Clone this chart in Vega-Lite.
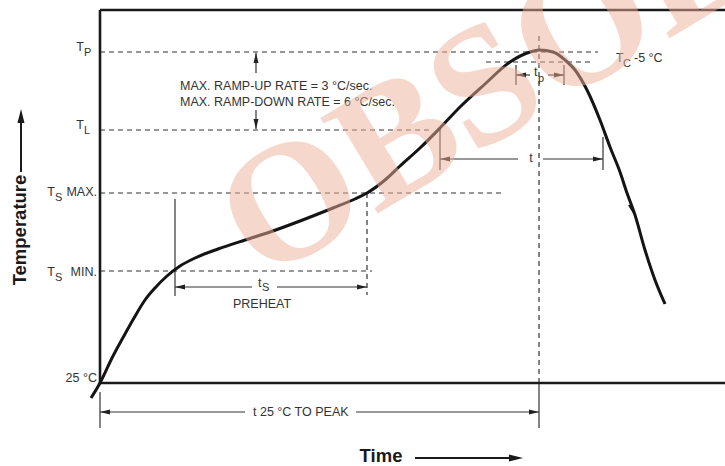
{
  "$schema": "https://vega.github.io/schema/vega-lite/v6.json",
  "description": "Reflow soldering profile (temperature vs time) with OBSOLETE stamp",
  "width": 725,
  "height": 466,
  "autosize": {"type": "none"},
  "padding": 0,
  "background": "white",
  "config": {"view": {"stroke": null}},
  "datasets": {
    "frame": [
      {"x": 100, "x2": 725, "y": 456, "y2": 456},
      {"x": 100, "x2": 100, "y": 456, "y2": 83},
      {"x": 100, "x2": 725, "y": 83, "y2": 83}
    ],
    "dashed": [
      {"x": 100, "x2": 598, "y": 414, "y2": 414},
      {"x": 486, "x2": 593, "y": 404, "y2": 404},
      {"x": 100, "x2": 432, "y": 336, "y2": 336},
      {"x": 100, "x2": 505, "y": 273, "y2": 273},
      {"x": 100, "x2": 372, "y": 195, "y2": 195},
      {"x": 367, "x2": 367, "y": 273, "y2": 171},
      {"x": 539, "x2": 539, "y": 430, "y2": 83}
    ],
    "thin": [
      {"x": 175, "x2": 175, "y": 267, "y2": 170},
      {"x": 440, "x2": 440, "y": 338, "y2": 296},
      {"x": 603, "x2": 603, "y": 329, "y2": 296},
      {"x": 516, "x2": 516, "y": 401, "y2": 381},
      {"x": 564, "x2": 564, "y": 401, "y2": 381},
      {"x": 100, "x2": 100, "y": 74, "y2": 38},
      {"x": 539, "x2": 539, "y": 83, "y2": 38},
      {"x": 175, "x2": 252, "y": 179, "y2": 179},
      {"x": 277, "x2": 367, "y": 179, "y2": 179},
      {"x": 440, "x2": 518, "y": 307, "y2": 307},
      {"x": 543, "x2": 603, "y": 307, "y2": 307},
      {"x": 516, "x2": 530, "y": 391, "y2": 391},
      {"x": 548, "x2": 564, "y": 391, "y2": 391},
      {"x": 100, "x2": 245, "y": 54, "y2": 54},
      {"x": 356, "x2": 539, "y": 54, "y2": 54},
      {"x": 256, "x2": 256, "y": 413, "y2": 393},
      {"x": 256, "x2": 256, "y": 356, "y2": 337}
    ],
    "bold_lines": [
      {"x": 21, "x2": 21, "y": 350, "y2": 294},
      {"x": 415, "x2": 515, "y": 8, "y2": 8},
      {"x": 629, "x2": 634, "y": 261, "y2": 253}
    ],
    "heads": [
      {"x": 180, "y": 179, "dir": "left"},
      {"x": 362, "y": 179, "dir": "right"},
      {"x": 445, "y": 307, "dir": "left"},
      {"x": 598, "y": 307, "dir": "right"},
      {"x": 521, "y": 391, "dir": "left"},
      {"x": 559, "y": 391, "dir": "right"},
      {"x": 105, "y": 54, "dir": "left"},
      {"x": 534, "y": 54, "dir": "right"},
      {"x": 256, "y": 408, "dir": "up"},
      {"x": 256, "y": 342, "dir": "down"}
    ],
    "big_heads": [
      {"x": 21, "y": 350, "dir": "up"},
      {"x": 516, "y": 8, "dir": "right"}
    ],
    "profile": [
      {"x": 91, "y": 68}, {"x": 100, "y": 83}, {"x": 112, "y": 108},
      {"x": 125, "y": 132}, {"x": 134, "y": 148}, {"x": 145, "y": 166},
      {"x": 155, "y": 178}, {"x": 167, "y": 190}, {"x": 180, "y": 200},
      {"x": 195, "y": 208}, {"x": 218, "y": 217}, {"x": 245, "y": 226},
      {"x": 270, "y": 234}, {"x": 300, "y": 245}, {"x": 333, "y": 258},
      {"x": 355, "y": 267}, {"x": 367, "y": 273}, {"x": 385, "y": 286},
      {"x": 400, "y": 300}, {"x": 420, "y": 318}, {"x": 440, "y": 338},
      {"x": 460, "y": 359}, {"x": 485, "y": 382}, {"x": 510, "y": 404},
      {"x": 530, "y": 414}, {"x": 539, "y": 416}, {"x": 553, "y": 414},
      {"x": 565, "y": 406}, {"x": 575, "y": 396}, {"x": 587, "y": 376},
      {"x": 600, "y": 346}, {"x": 610, "y": 319}, {"x": 620, "y": 294},
      {"x": 627, "y": 273}, {"x": 635, "y": 251}, {"x": 645, "y": 216},
      {"x": 655, "y": 186}, {"x": 665, "y": 162}
    ],
    "labels_right": [
      {"x": 84, "y": 419, "text": "T"},
      {"x": 84, "y": 341, "text": "T"},
      {"x": 55, "y": 274, "text": "T"},
      {"x": 97, "y": 274, "text": "MAX."},
      {"x": 55, "y": 194, "text": "T"},
      {"x": 97, "y": 194, "text": "MIN."},
      {"x": 97, "y": 88, "text": "25 °C"}
    ],
    "labels_left": [
      {"x": 180, "y": 380, "text": "MAX. RAMP-UP RATE = 3 °C/sec."},
      {"x": 180, "y": 364, "text": "MAX. RAMP-DOWN RATE = 6 °C/sec."},
      {"x": 616, "y": 408, "text": "T"},
      {"x": 634, "y": 408, "text": "-5 °C"},
      {"x": 534, "y": 394, "text": "t"},
      {"x": 258, "y": 183, "text": "t"},
      {"x": 253, "y": 54, "text": "t  25 °C TO PEAK"}
    ],
    "labels_center": [
      {"x": 531, "y": 308, "text": "t"},
      {"x": 262, "y": 162, "text": "PREHEAT"}
    ],
    "subscripts": [
      {"x": 84, "y": 413, "text": "P"},
      {"x": 84, "y": 335, "text": "L"},
      {"x": 55, "y": 268, "text": "S"},
      {"x": 55, "y": 188, "text": "S"},
      {"x": 623, "y": 402, "text": "C"},
      {"x": 538, "y": 387, "text": "p"},
      {"x": 262, "y": 178, "text": "S"}
    ],
    "title_y": [{"x": 20, "y": 236, "text": "Temperature"}],
    "title_x": [{"x": 381, "y": 10, "text": "Time"}],
    "stamp": [{"x": 262, "y": 183, "text": "OBSOLETE"}]
  },
  "encoding": {
    "x": {"field": "x", "type": "quantitative", "scale": {"domain": [0, 725], "nice": false, "zero": false}, "axis": null},
    "y": {"field": "y", "type": "quantitative", "scale": {"domain": [0, 466], "nice": false, "zero": false}, "axis": null}
  },
  "layer": [
    {
      "data": {"name": "dashed"},
      "mark": {"type": "rule", "color": "#333333", "strokeWidth": 1.2, "strokeDash": [5, 4]},
      "encoding": {"x2": {"field": "x2"}, "y2": {"field": "y2"}}
    },
    {
      "data": {"name": "thin"},
      "mark": {"type": "rule", "color": "#333333", "strokeWidth": 1.2},
      "encoding": {"x2": {"field": "x2"}, "y2": {"field": "y2"}}
    },
    {
      "data": {"name": "bold_lines"},
      "mark": {"type": "rule", "color": "#1a1a1a", "strokeWidth": 2},
      "encoding": {"x2": {"field": "x2"}, "y2": {"field": "y2"}}
    },
    {
      "data": {"name": "frame"},
      "mark": {"type": "rule", "color": "#1a1a1a", "strokeWidth": 2.6},
      "encoding": {"x2": {"field": "x2"}, "y2": {"field": "y2"}}
    },
    {
      "data": {"name": "heads"},
      "mark": {"type": "point", "filled": true, "color": "#222222", "opacity": 1, "size": 100},
      "encoding": {
        "shape": {
          "field": "dir", "type": "nominal", "legend": null,
          "scale": {
            "domain": ["left", "right", "up", "down"],
            "range": ["M-1,0L1,-0.5L1,0.5Z", "M1,0L-1,-0.5L-1,0.5Z", "M0,-1L-0.5,1L0.5,1Z", "M0,1L-0.5,-1L0.5,-1Z"]
          }
        }
      }
    },
    {
      "data": {"name": "big_heads"},
      "mark": {"type": "point", "filled": true, "color": "#1a1a1a", "opacity": 1, "size": 200},
      "encoding": {"shape": {"field": "dir", "type": "nominal", "legend": null}}
    },
    {
      "data": {"name": "profile"},
      "mark": {"type": "line", "color": "#141414", "strokeWidth": 3, "interpolate": "monotone"},
      "encoding": {}
    },
    {
      "data": {"name": "labels_right"},
      "mark": {"type": "text", "align": "right", "baseline": "middle", "font": "'Liberation Sans', sans-serif", "fontSize": 12.5, "color": "#333333"},
      "encoding": {"text": {"field": "text", "type": "nominal"}}
    },
    {
      "data": {"name": "labels_left"},
      "mark": {"type": "text", "align": "left", "baseline": "middle", "font": "'Liberation Sans', sans-serif", "fontSize": 12.5, "color": "#333333"},
      "encoding": {"text": {"field": "text", "type": "nominal"}}
    },
    {
      "data": {"name": "labels_center"},
      "mark": {"type": "text", "align": "center", "baseline": "middle", "font": "'Liberation Sans', sans-serif", "fontSize": 12.5, "color": "#333333"},
      "encoding": {"text": {"field": "text", "type": "nominal"}}
    },
    {
      "data": {"name": "subscripts"},
      "mark": {"type": "text", "align": "left", "baseline": "middle", "font": "'Liberation Sans', sans-serif", "fontSize": 11, "color": "#333333"},
      "encoding": {"text": {"field": "text", "type": "nominal"}}
    },
    {
      "data": {"name": "title_y"},
      "mark": {"type": "text", "align": "center", "baseline": "middle", "angle": 270, "font": "'Liberation Sans', sans-serif", "fontWeight": "bold", "fontSize": 18.5, "color": "#1a1a1a"},
      "encoding": {"text": {"field": "text", "type": "nominal"}}
    },
    {
      "data": {"name": "title_x"},
      "mark": {"type": "text", "align": "center", "baseline": "middle", "font": "'Liberation Sans', sans-serif", "fontWeight": "bold", "fontSize": 18.5, "color": "#1a1a1a"},
      "encoding": {"text": {"field": "text", "type": "nominal"}}
    },
    {
      "data": {"name": "stamp"},
      "mark": {"type": "text", "align": "left", "baseline": "alphabetic", "angle": -31, "font": "'Liberation Serif', serif", "fontWeight": "bold", "fontSize": 170, "color": "#efb099", "opacity": 0.5},
      "encoding": {"text": {"field": "text", "type": "nominal"}}
    }
  ]
}
